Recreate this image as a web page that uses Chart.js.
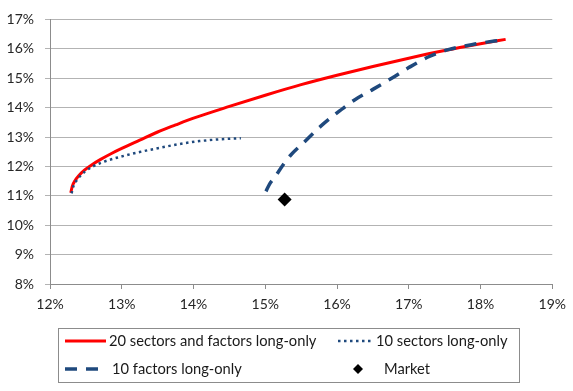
<!DOCTYPE html>
<html>
<head>
<meta charset="utf-8">
<script src="https://cdn.jsdelivr.net/npm/chart.js@4"></script>
<style>
  html, body { margin: 0; padding: 0; background: #fff; }
  #wrap { width: 573px; height: 391px; }
</style>
</head>
<body>
<div id="wrap"><canvas id="frontier" width="573" height="391"></canvas></div>
<script>
// risk (x, %) / return (y, %)
const sectorsFactorsX = [12.29, 12.31, 12.35, 12.40, 12.48, 12.58, 12.70, 12.85, 13.00, 13.25, 13.50, 13.75, 14.00, 14.50, 15.00, 15.50, 16.00, 16.50, 17.00, 17.50, 18.00, 18.35];
const sectorsFactorsY = [11.10, 11.32, 11.52, 11.68, 11.87, 12.05, 12.23, 12.43, 12.61, 12.89, 13.17, 13.41, 13.64, 14.04, 14.42, 14.78, 15.10, 15.40, 15.68, 15.94, 16.17, 16.32];

const sectorsX = [12.30, 12.33, 12.37, 12.42, 12.50, 12.60, 12.74, 12.97, 13.25, 13.53, 13.80, 14.08, 14.36, 14.66];
const sectorsY = [11.08, 11.35, 11.52, 11.67, 11.85, 12.00, 12.15, 12.32, 12.49, 12.63, 12.76, 12.86, 12.92, 12.96];

const factorsX = [15.01, 15.06, 15.12, 15.26, 15.35, 15.54, 15.77, 16.0, 16.25, 16.5, 16.75, 17.0, 17.27, 17.55, 17.92, 18.33];
const factorsY = [11.15, 11.4, 11.59, 12.09, 12.37, 12.82, 13.36, 13.82, 14.27, 14.62, 14.98, 15.36, 15.72, 15.97, 16.16, 16.31];

const marketX = [15.27];
const marketY = [10.87];

const seriesLabels = ['20 sectors and factors long-only', '10 sectors long-only', '10 factors long-only', 'Market'];

const xTicks = { min: 12, max: 19, step: 1 };
const yTicks = { min: 8, max: 17, step: 1 };

const RED = '#ff0000';
const BLUE = '#1f497d';
const FONT = 'Lato, "Liberation Sans", sans-serif';

function toPoints(xs, ys) {
    return xs.map((x, i) => ({ x: x, y: ys[i] }));
}

// legend in a box under the plot, two columns
const boxLegend = {
    id: 'boxLegend',
    afterDraw(chart) {
        const ctx = chart.ctx;
        ctx.save();
        ctx.strokeStyle = '#8c8c8c';
        ctx.lineWidth = 1;
        ctx.strokeRect(58.5, 328.5, 461, 54);

        ctx.font = '14.7px ' + FONT;
        ctx.fillStyle = '#1a1a1a';
        ctx.textBaseline = 'middle';

        // red solid
        ctx.beginPath();
        ctx.strokeStyle = RED;
        ctx.lineWidth = 3;
        ctx.moveTo(65, 341); ctx.lineTo(106, 341);
        ctx.stroke();
        ctx.fillText(seriesLabels[0], 109, 341);

        // blue dotted
        ctx.beginPath();
        ctx.strokeStyle = BLUE;
        ctx.lineWidth = 2.5;
        ctx.setLineDash([2.5, 3.5]);
        ctx.moveTo(338, 341); ctx.lineTo(373, 341);
        ctx.stroke();
        ctx.fillText(seriesLabels[1], 376, 341);

        // blue dashed
        ctx.beginPath();
        ctx.lineWidth = 3.5;
        ctx.setLineDash([12, 9]);
        ctx.moveTo(65, 369); ctx.lineTo(99, 369);
        ctx.stroke();
        ctx.setLineDash([]);
        ctx.fillText(seriesLabels[2], 112, 369);

        // market diamond
        ctx.beginPath();
        ctx.fillStyle = '#000';
        ctx.moveTo(358, 364); ctx.lineTo(363, 369); ctx.lineTo(358, 374); ctx.lineTo(353, 369);
        ctx.closePath();
        ctx.fill();
        ctx.fillStyle = '#1a1a1a';
        ctx.fillText(seriesLabels[3], 384, 369);
        ctx.restore();
    }
};

new Chart(document.getElementById('frontier'), {
    type: 'scatter',
    data: {
        datasets: [
            {
                label: seriesLabels[0],
                data: toPoints(sectorsFactorsX, sectorsFactorsY),
                showLine: true,
                borderColor: RED,
                borderWidth: 3,
                pointRadius: 0,
                cubicInterpolationMode: 'monotone',
                order: 3
            },
            {
                label: seriesLabels[1],
                data: toPoints(sectorsX, sectorsY),
                showLine: true,
                borderColor: BLUE,
                borderWidth: 2.5,
                borderDash: [2.5, 3.5],
                pointRadius: 0,
                cubicInterpolationMode: 'monotone',
                order: 2
            },
            {
                label: seriesLabels[2],
                data: toPoints(factorsX, factorsY),
                showLine: true,
                borderColor: BLUE,
                borderWidth: 3.5,
                borderDash: [12, 9],
                pointRadius: 0,
                cubicInterpolationMode: 'monotone',
                order: 1
            },
            {
                label: seriesLabels[3],
                data: toPoints(marketX, marketY),
                showLine: false,
                pointStyle: 'rectRot',
                pointRadius: 7,
                backgroundColor: '#000',
                borderColor: '#000',
                borderWidth: 0,
                order: 0
            }
        ]
    },
    options: {
        responsive: false,
        animation: false,
        devicePixelRatio: 1,
        layout: { padding: { top: 15, right: 18, left: 0, bottom: 73 } },
        plugins: {
            legend: { display: false },
            tooltip: { enabled: false }
        },
        scales: {
            x: {
                type: 'linear',
                min: xTicks.min,
                max: xTicks.max,
                afterFit(scale) { scale.height = 34; },
                ticks: {
                    stepSize: xTicks.step,
                    padding: 7,
                    color: '#262626',
                    font: { family: FONT, size: 14 },
                    callback: v => v + '%'
                },
                grid: { drawOnChartArea: false, drawTicks: true, tickLength: 5, color: '#8c8c8c' },
                border: { display: true, color: '#8c8c8c' }
            },
            y: {
                type: 'linear',
                min: yTicks.min,
                max: yTicks.max,
                afterFit(scale) { scale.width = 50; },
                ticks: {
                    stepSize: yTicks.step,
                    padding: 11,
                    color: '#262626',
                    font: { family: FONT, size: 14 },
                    callback: v => v + '%'
                },
                grid: { color: '#b3b3b3', tickLength: 5 },
                border: { display: true, color: '#8c8c8c' }
            }
        }
    },
    plugins: [boxLegend]
});
</script>
</body>
</html>
